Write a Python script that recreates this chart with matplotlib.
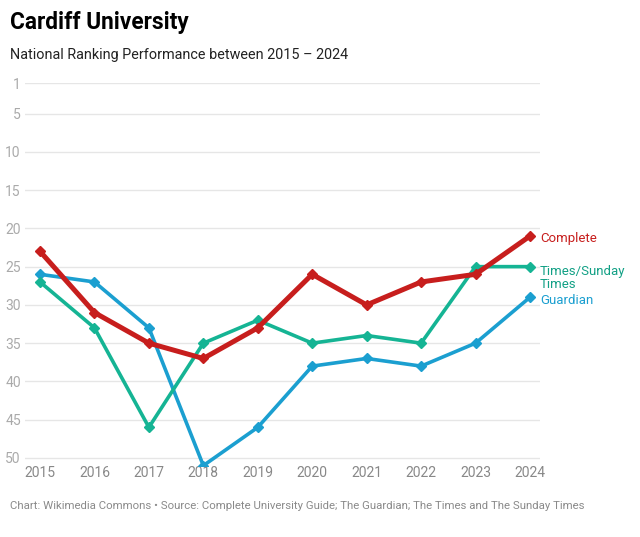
import matplotlib
matplotlib.use("Agg")
import matplotlib.pyplot as plt

years = [2015, 2016, 2017, 2018, 2019, 2020, 2021, 2022, 2023, 2024]
complete = [23, 31, 35, 37, 33, 26, 30, 27, 26, 21]
times = [27, 33, 46, 35, 32, 35, 34, 35, 25, 25]
guardian = [26, 27, 33, 51, 46, 38, 37, 38, 35, 29]
yticks = [1, 5, 10, 15, 20, 25, 30, 35, 40, 45, 50]

plt.rcParams['font.family'] = ['Roboto', 'DejaVu Sans']

W, H = 640, 537
fig = plt.figure(figsize=(W/100, H/100), dpi=100)
ax = fig.add_axes([25/W, 1-465.6/H, (540-25)/W, (465.6-83)/H])

c_red = '#c71e1d'
c_teal = '#15b494'
c_blue = '#1b9fd0'

ax.plot(years, guardian, color=c_blue, lw=2.6, marker='D', ms=5, zorder=3)
ax.plot(years, times, color=c_teal, lw=2.6, marker='D', ms=5, zorder=4)
ax.plot(years, complete, color=c_red, lw=3.6, marker='D', ms=5.5, zorder=5)

ax.set_ylim(51, 1)
ax.set_xlim(2015 - 15/54.4, 2024 + 10/54.4)
ax.set_yticks(yticks)
ax.set_xticks(years)
ax.set_xticklabels([str(y) for y in years])
ax.grid(axis='y', color='#e6e6e6', lw=1)
ax.set_axisbelow(True)
for s in ax.spines.values():
    s.set_visible(False)
ax.tick_params(axis='both', length=0, colors='#9a9a9a', labelsize=10)
ax.tick_params(axis='y', pad=3)
ax.tick_params(axis='x', pad=0)
for lab in ax.get_yticklabels():
    lab.set_color('#aaaaaa')
for lab in ax.get_xticklabels():
    lab.set_color('#888888')

ax.annotate('Complete', xy=(years[-1], complete[-1]), xytext=(7.2, -2), textcoords='offset points',
            color=c_red, fontsize=9.5, va='center', ha='left', annotation_clip=False)
ax.annotate('Times/Sunday\nTimes', xy=(years[-1], times[-1]), xytext=(7.2, -8), textcoords='offset points',
            color='#12a085', fontsize=9.5, va='center', ha='left', linespacing=1.0, annotation_clip=False)
ax.annotate('Guardian', xy=(years[-1], guardian[-1]), xytext=(7.2, -2), textcoords='offset points',
            color=c_blue, fontsize=9.5, va='center', ha='left', annotation_clip=False)

fig.text(10/W, 1-22/H, 'Cardiff University', fontsize=16.3, fontweight='bold', va='center', ha='left', color='#000000')
fig.text(10/W, 1-55/H, 'National Ranking Performance between 2015 – 2024', fontsize=10.4, va='center', ha='left', color='#222222')
fig.text(10/W, 1-506/H, 'Chart: Wikimedia Commons • Source: Complete University Guide; The Guardian; The Times and The Sunday Times',
         fontsize=8.2, va='center', ha='left', color='#8a8a8a')

fig.savefig('out.png', dpi=100, facecolor='white')
